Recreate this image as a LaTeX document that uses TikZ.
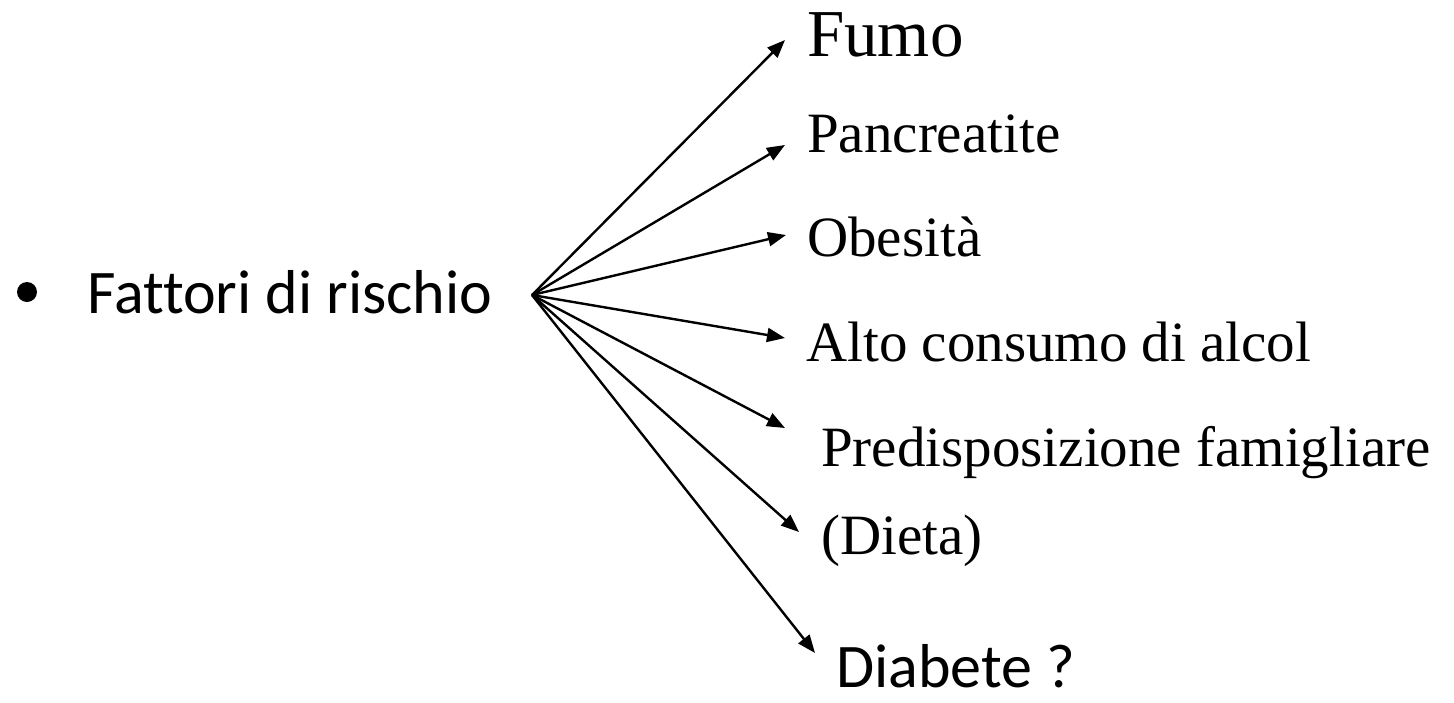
\documentclass[tikz,border=0pt]{standalone}
\usepackage{fontspec}
\setmainfont{Liberation Serif}
\newfontfamily\calibri[Ligatures=NoCommon, Contextuals=NoAlternate]{Carlito}
\usetikzlibrary{arrows.meta}

\tikzset{
	risk/.style={anchor=base west, inner sep=0pt, font=\fontsize{57}{60}\selectfont},
	fanarrow/.style={-{Triangle[length=18pt,width=14pt]}, line width=2.4pt}
}

\begin{document}
\begin{tikzpicture}[x=1pt,y=-1pt]
	\useasboundingbox (0,0) rectangle (1454,702);
	
	%left label
	\node[circle, fill, inner sep=0pt, minimum size=20pt] (bullet) at (27,292) {};
	\node[anchor=base west, inner sep=0pt, font=\calibri\fontsize{62}{64}\selectfont] (fattori) at (87,313) {Fattori di rischio};
	\coordinate (hub) at (532,295);
	
	%right labels
	\node[risk, font=\fontsize{67}{70}\selectfont] (fumo) at (807,56) {Fumo};
	\node[risk] (pancreatite) at (807,152) {Pancreatite};
	\node[risk] (obesita)     at (807,256) {Obesità};
	\node[risk] (alcol)       at (806,361) {Alto consumo di alcol};
	\node[risk] (famiglia)    at (821,466) {Predisposizione famigliare};
	\node[risk] (dieta)       at (821,554) {(Dieta)};
	\node[risk, font=\calibri\fontsize{62}{64}\selectfont] (diabete) at (836,687) {Diabete ?};
	
	%arrow tips
	\coordinate (tfumo)        at (785,40);
	\coordinate (tpancreatite) at (785,145);
	\coordinate (tobesita)     at (786,235);
	\coordinate (talcol)       at (785,338);
	\coordinate (tfamiglia)    at (785,428);
	\coordinate (tdieta)       at (799,532);
	\coordinate (tdiabete)     at (815,653);
	
	%arrows
	\draw[fanarrow] (hub)--(tfumo);			%top arrow
	\draw[fanarrow] (hub)--(tpancreatite);
	\draw[fanarrow] (hub)--(tobesita);
	\draw[fanarrow] (hub)--(talcol);
	\draw[fanarrow] (hub)--(tfamiglia);
	\draw[fanarrow] (hub)--(tdieta);
	\draw[fanarrow] (hub)--(tdiabete);		%bottom arrow
\end{tikzpicture}
\end{document}
